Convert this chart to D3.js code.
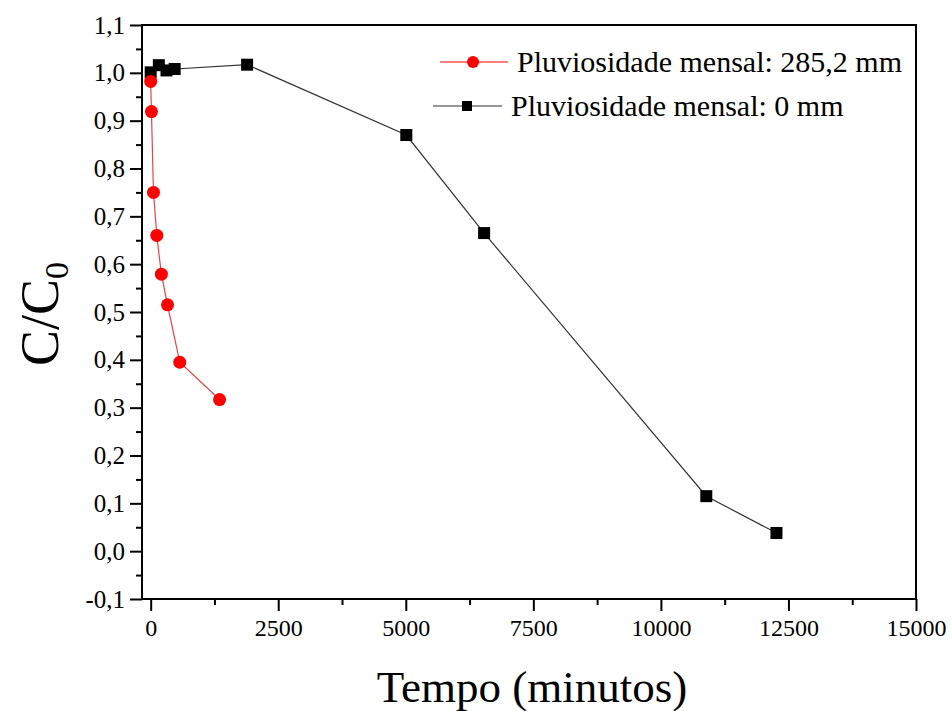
<!DOCTYPE html>
<html>
<head>
<meta charset="utf-8">
<script src="https://cdn.jsdelivr.net/npm/d3@7"></script>
<style>
  html, body { margin: 0; padding: 0; background: #fff; }
  svg text { font-family: "Liberation Serif", "Times New Roman", serif !important; }
</style>
</head>
<body>
<svg id="chart" width="952" height="711"></svg>
<script>
// ---- data ----
const seriesNames = ["Pluviosidade mensal: 285,2 mm", "Pluviosidade mensal: 0 mm"];
const redTime  = [0, 15, 55, 120, 210, 330, 570, 1350];
const redValue = [0.982, 0.919, 0.750, 0.660, 0.579, 0.515, 0.395, 0.317];
const blackTime  = [0, 160, 310, 470, 1890, 5010, 6535, 10890, 12265];
const blackValue = [1.001, 1.016, 1.005, 1.008, 1.017, 0.870, 0.665, 0.115, 0.038];
const xTicks = [0, 2500, 5000, 7500, 10000, 12500, 15000];
const yTicks = [-0.1, 0.0, 0.1, 0.2, 0.3, 0.4, 0.5, 0.6, 0.7, 0.8, 0.9, 1.0, 1.1];
const xTitle = "Tempo (minutos)";

// ---- layout ----
const W = 952, H = 711;
const m = { left: 142, right: 36, top: 25, bottom: 112 };
const svg = d3.select("#chart");
const x = d3.scaleLinear().domain([-170, 15000]).range([m.left, W - m.right]);
const y = d3.scaleLinear().domain([-0.1, 1.1]).range([H - m.bottom, m.top]);
const fmtY = v => d3.format(".1f")(v).replace(".", ",").replace("−", "-");
const serif = "'Liberation Serif', 'Times New Roman', serif";

// frame
svg.append("rect")
  .attr("x", m.left).attr("y", m.top)
  .attr("width", W - m.right - m.left).attr("height", H - m.bottom - m.top)
  .attr("fill", "none").attr("stroke", "#000").attr("stroke-width", 2);

// minor ticks
const xMinor = d3.range(1250, 15000, 2500);
const yMinor = d3.range(-0.05, 1.1, 0.1);
svg.append("g").attr("transform", `translate(0,${H - m.bottom})`)
  .call(d3.axisBottom(x).tickValues(xMinor).tickSize(6).tickFormat(""))
  .call(g => g.select(".domain").remove())
  .call(g => g.selectAll("line").attr("stroke-width", 2));
svg.append("g").attr("transform", `translate(${m.left},0)`)
  .call(d3.axisLeft(y).tickValues(yMinor).tickSize(6).tickFormat(""))
  .call(g => g.select(".domain").remove())
  .call(g => g.selectAll("line").attr("stroke-width", 2));

// major axes
svg.append("g").attr("transform", `translate(0,${H - m.bottom})`)
  .call(d3.axisBottom(x).tickValues(xTicks).tickSize(12).tickPadding(8).tickFormat(d3.format("d")))
  .attr("font-family", serif).attr("font-size", 24)
  .call(g => g.select(".domain").remove())
  .call(g => g.selectAll("line").attr("stroke-width", 2))
  .call(g => g.selectAll("text").attr("fill", "#000").style("font-family", serif).style("font-size", "24px"));
svg.append("g").attr("transform", `translate(${m.left},0)`)
  .call(d3.axisLeft(y).tickValues(yTicks).tickSize(12).tickPadding(5).tickFormat(fmtY))
  .attr("font-family", serif).attr("font-size", 25)
  .call(g => g.select(".domain").remove())
  .call(g => g.selectAll("line").attr("stroke-width", 2))
  .call(g => g.selectAll("text").attr("fill", "#000").style("font-family", serif).style("font-size", "25px"));

// axis titles
svg.append("text")
  .attr("x", 532).attr("y", 702)
  .attr("text-anchor", "middle").attr("font-size", 45).attr("fill", "#000")
  .style("font-family", serif)
  .text(xTitle);
const yt = svg.append("text")
  .attr("transform", `translate(58,${(m.top + H - m.bottom) / 2 + 2}) rotate(-90)`)
  .attr("text-anchor", "middle").attr("font-size", 54).attr("fill", "#000")
  .style("font-family", serif);
yt.append("tspan").text("C/C");
yt.append("tspan").attr("font-size", 34).attr("dy", 10).text("0");

// series
const red = redTime.map((t, i) => [t, redValue[i]]);
const black = blackTime.map((t, i) => [t, blackValue[i]]);
const line = d3.line().x(d => x(d[0])).y(d => y(d[1]));

svg.append("path").datum(black).attr("d", line)
  .attr("fill", "none").attr("stroke", "#333").attr("stroke-width", 1.2);
svg.append("path").datum(red).attr("d", line)
  .attr("fill", "none").attr("stroke", "#e84545").attr("stroke-width", 1.2);

const sq = 12;
svg.append("g").selectAll("rect").data(black).join("rect")
  .attr("x", d => x(d[0]) - sq / 2).attr("y", d => y(d[1]) - sq / 2)
  .attr("width", sq).attr("height", sq).attr("fill", "#000");
svg.append("g").selectAll("circle").data(red).join("circle")
  .attr("cx", d => x(d[0])).attr("cy", d => y(d[1])).attr("r", 6.5)
  .attr("fill", "#f00");

// legend
const lg = svg.append("g");
lg.append("line").attr("x1", 440).attr("x2", 508).attr("y1", 62).attr("y2", 62)
  .attr("stroke", "#f00").attr("stroke-width", 1.2);
lg.append("circle").attr("cx", 473).attr("cy", 62).attr("r", 6).attr("fill", "#f00");
lg.append("text").attr("x", 517).attr("y", 72).attr("font-size", 30).attr("fill", "#000")
  .style("font-family", serif).text(seriesNames[0]);
lg.append("line").attr("x1", 433).attr("x2", 502).attr("y1", 106).attr("y2", 106)
  .attr("stroke", "#333").attr("stroke-width", 1.2);
lg.append("rect").attr("x", 467 - 5).attr("y", 106 - 5).attr("width", 10).attr("height", 10).attr("fill", "#000");
lg.append("text").attr("x", 511).attr("y", 116).attr("font-size", 30).attr("fill", "#000")
  .style("font-family", serif).text(seriesNames[1]);
</script>
</body>
</html>
